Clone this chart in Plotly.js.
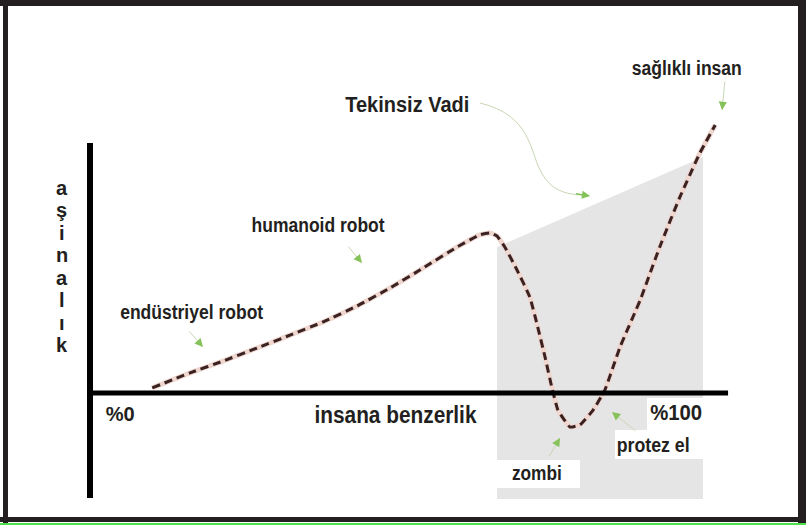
<!DOCTYPE html>
<html>
<head>
<meta charset="utf-8">
<script src="https://cdn.plot.ly/plotly-3.0.1.min.js"></script>
<style>html,body{margin:0;padding:0;background:#fff;}#chart{width:806px;height:525px;}</style>
</head>
<body>
<div id="chart"></div>
<script>
// ---- data ----
const similarity = [10.2, 16.4, 21.8, 27.4, 32.8, 38.2, 43.8, 49.2, 54.6, 60.2, 63.9, 65.6, 66.7, 68.0, 70.0, 72.1, 73.4, 74.6, 75.7, 76.7, 78.7, 80.3, 82.5, 84.4, 86.9, 90.2, 93.4, 96.7, 100.0, 102.5];
const familiarity = [1.9, 7.5, 11.9, 16.8, 21.6, 26.5, 32.5, 39.2, 46.6, 54.5, 59.0, 59.7, 58.6, 54.5, 45.9, 35.8, 24.6, 13.4, 2.2, -6.3, -12.7, -11.9, -6.3, 1.1, 17.2, 34.7, 54.5, 73.1, 89.6, 100.0];
const labelText = ['sağlıklı insan', 'Tekinsiz Vadi', 'humanoid robot', 'endüstriyel robot', '%0', 'insana benzerlik', '%100', 'protez el', 'zombi'];
const yTitleLetters = ['a', 'ş', 'i', 'n', 'a', 'l', 'ı', 'k'];

// ---- layout helpers ----
const labelX = [97.9, 52.0, 37.4, 16.7, 4.9, 50.0, 96.1, 92.3, 73.3];
const labelY = [121.3, 107.8, 62.7, 30.2, -7.5, -8.2, -7.1, -19.4, -29.9];
const labelW = [110, 124, 133, 143, 29, 162, 52, 73, 50];
const labelS = [20, 22, 20, 20, 21, 23, 22, 20, 20];

function hasFont(f) {
  const c = document.createElement('canvas').getContext('2d');
  c.font = 'bold 50px monospace';
  const w0 = c.measureText('humanoid robot Wg').width;
  c.font = 'bold 50px "' + f + '", monospace';
  return Math.abs(c.measureText('humanoid robot Wg').width - w0) > 0.5;
}
const narrow = hasFont('Liberation Sans Narrow');
const fam = narrow ? 'Liberation Sans Narrow' : 'Liberation Sans';
const ctx = document.createElement('canvas').getContext('2d');
function natWidth(t, s) { ctx.font = 'bold ' + s + 'px "' + fam + '"'; return ctx.measureText(t).width; }

const txtColor = '#231f20';
const annotations = [];
labelText.forEach((t, i) => {
  annotations.push({x: labelX[i], y: labelY[i], xref: 'x', yref: 'y', text: t, showarrow: false,
    xanchor: 'center', yanchor: 'middle', name: 'lbl' + i,
    font: {family: fam, size: labelS[i], color: txtColor, weight: 'bold'}});
});
const yTop = 76.5, yStep = 8.37;
yTitleLetters.forEach((t, i) => {
  annotations.push({x: -4.6, y: yTop - i * yStep, xref: 'x', yref: 'y', text: t, showarrow: false,
    xanchor: 'center', yanchor: 'middle',
    font: {family: fam, size: 20, color: txtColor, weight: 'bold'}});
});

// arrows: [tailX, tailY, headX, headY]
const arrows = [
  [16.07, 23.51, 18.52, 17.16],
  [42.13, 55.22, 44.59, 48.51],
  [104.10, 116.79, 103.61, 105.60],
  [75.08, -24.25, 77.05, -16.79],
  [89.67, -14.55, 85.57, -7.09],
  [79.4, 74.4, 82.0, 73.5]
];
arrows.forEach((a, i) => {
  if (i < 5) {
    annotations.push({x: a[2], y: a[3], ax: a[0], ay: a[1], xref: 'x', yref: 'y', axref: 'x', ayref: 'y',
      text: '', showarrow: true, arrowhead: 0, arrowwidth: 1, arrowcolor: '#c9d6b4'});
  }
  const f = i < 5 ? 0.3 : 1;
  annotations.push({x: a[2], y: a[3], ax: a[2] - (a[2] - a[0]) * f, ay: a[3] - (a[3] - a[1]) * f,
    xref: 'x', yref: 'y', axref: 'x', ayref: 'y',
    text: '', showarrow: true, arrowhead: 2, arrowsize: 1.1, arrowwidth: 1.5, arrowcolor: '#86c25a'});
});

const dark = '#231f20';
const shapes = [
  {type: 'path', xref: 'x', yref: 'y', layer: 'below', line: {width: 0}, fillcolor: '#e5e5e5',
   path: 'M 66.72,54.48 L 100.49,88.06 L 100.49,-39.55 L 66.72,-39.55 Z'},
  {type: 'rect', xref: 'x', yref: 'y', layer: 'below', line: {width: 0}, fillcolor: '#ffffff', x0: 66.72, x1: 80.33, y0: -25.0, y1: -35.45},
  {type: 'rect', xref: 'x', yref: 'y', layer: 'below', line: {width: 0}, fillcolor: '#ffffff', x0: 91.31, x1: 100.49, y0: -1.87, y1: -13.81},
  {type: 'rect', xref: 'x', yref: 'y', layer: 'below', line: {width: 0}, fillcolor: '#ffffff', x0: 86.07, x1: 100.49, y0: -13.81, y1: -24.63},
  {type: 'path', xref: 'x', yref: 'y', layer: 'above', line: {width: 1, color: '#c9d6b4'},
   path: 'M 63.93,108.21 C 72.13,103.73 72.13,90.67 73.77,83.21 S 77.87,73.88 81.15,73.88'},
  {type: 'line', xref: 'x', yref: 'y', layer: 'above', x0: 0, x1: 104.6, y0: 0, y1: 0, line: {color: '#000', width: 5}},
  {type: 'line', xref: 'x', yref: 'y', layer: 'above', x0: 0, x1: 0, y0: 93.3, y1: -39.2, line: {color: '#000', width: 6}},
  {type: 'rect', xref: 'paper', yref: 'paper', x0: 0, x1: 1, y0: 0.98857, y1: 1, line: {width: 0}, fillcolor: dark},
  {type: 'rect', xref: 'paper', yref: 'paper', x0: 3/806, x1: 8/806, y0: 0, y1: 1, line: {width: 0}, fillcolor: dark},
  {type: 'rect', xref: 'paper', yref: 'paper', x0: 798/806, x1: 1, y0: 0, y1: 1, line: {width: 0}, fillcolor: dark},
  {type: 'rect', xref: 'paper', yref: 'paper', x0: 0, x1: 1, y0: 3/525, y1: 8/525, line: {width: 0}, fillcolor: dark},
  {type: 'rect', xref: 'paper', yref: 'paper', x0: 0, x1: 1, y0: 0, y1: 2/525, line: {width: 0}, fillcolor: '#4ee04a'}
];

const traces = [
  {x: similarity, y: familiarity, type: 'scatter', mode: 'lines', hoverinfo: 'skip',
   line: {color: '#efd6cf', width: 5, shape: 'spline', smoothing: 0.4}},
  {x: similarity, y: familiarity, type: 'scatter', mode: 'lines', hoverinfo: 'skip',
   line: {color: '#3b2222', width: 3, dash: '8px,5px', shape: 'spline', smoothing: 0.4}}
];

const layout = {
  width: 806, height: 525,
  margin: {l: 0, r: 0, t: 0, b: 0, pad: 0},
  paper_bgcolor: '#ffffff', plot_bgcolor: '#ffffff',
  showlegend: false,
  xaxis: {range: [-14.754, 117.377], visible: false, fixedrange: true},
  yaxis: {range: [-49.254, 146.642], visible: false, fixedrange: true},
  shapes: shapes,
  annotations: annotations
};
Plotly.newPlot('chart', traces, layout, {displayModeBar: false, staticPlot: true}).then(gd => {
  // condense label glyphs horizontally to match the narrow typeface of the original
  const nodes = gd.querySelectorAll('.annotation-text');
  nodes.forEach(n => {
    const t = n.textContent;
    const i = labelText.indexOf(t);
    if (i < 0) return;
    const w = natWidth(t, labelS[i]);
    if (w > labelW[i]) {
      n.setAttribute('textLength', labelW[i]);
      n.setAttribute('lengthAdjust', 'spacingAndGlyphs');
    }
  });
});
</script>
</body>
</html>
